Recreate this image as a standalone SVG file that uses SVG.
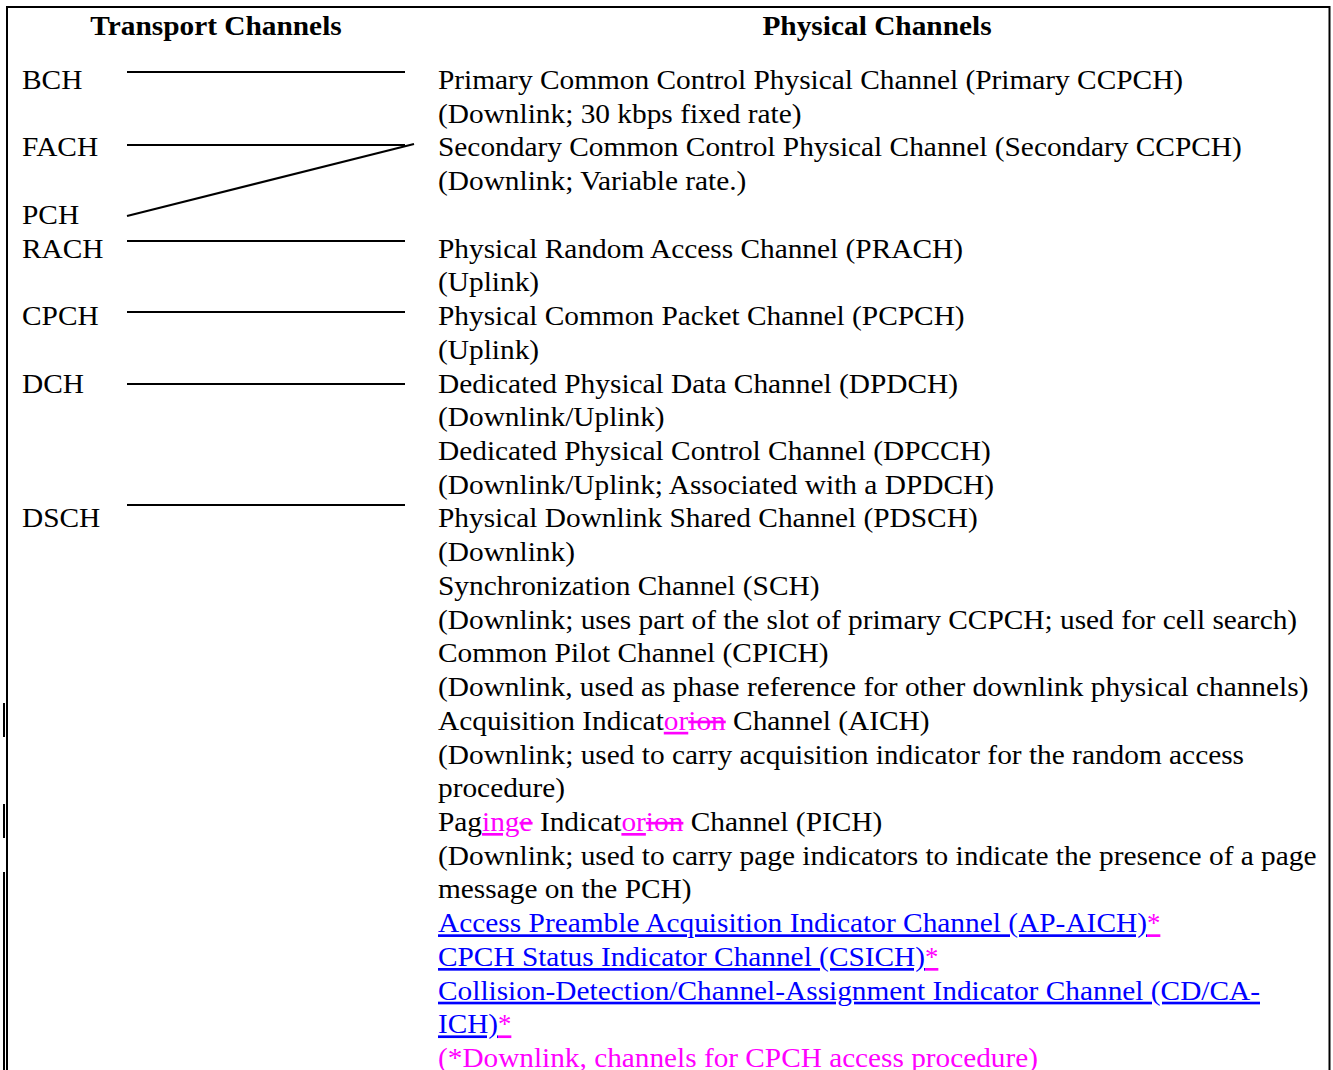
<svg xmlns="http://www.w3.org/2000/svg" width="1333" height="1070" viewBox="0 0 1333 1070">
<style>
  text { font-family: "Liberation Serif", "Times New Roman", serif; font-size: 26.7px; fill: #000; }
  .hdr { font-weight: bold; text-anchor: middle; }
  .ins { fill: #ff00ff; text-decoration: underline; }
  .del { fill: #ff00ff; text-decoration: line-through; }
  .link { fill: #0000ff; text-decoration: underline; }
  .mag { fill: #ff00ff; }
  .magu { fill: #ff00ff; text-decoration: underline; }
  .conn { stroke: #000; stroke-width: 2; fill: none; }
  .frame { stroke: #000; stroke-width: 2; fill: none; }
</style>
<rect x="0" y="0" width="1333" height="1070" fill="#fff"/>
<g id="frame">
  <polyline class="frame" points="7,1070 7,7 1329.5,7 1329.5,1070"/>
  <line class="frame" x1="4" y1="703" x2="4" y2="737"/>
  <line class="frame" x1="4" y1="804" x2="4" y2="838"/>
  <line class="frame" x1="4" y1="872" x2="4" y2="1070"/>
</g>
<g id="headers">
  <g transform="translate(216,0) scale(1.1,1)"><text class="hdr" x="0" y="35">Transport Channels</text></g>
  <g transform="translate(877,0) scale(1.1,1)"><text class="hdr" x="0" y="35">Physical Channels</text></g>
</g>
<g id="transport" transform="translate(22,0) scale(1.1,1)">
  <g id="t-bch"><text x="0" y="89">BCH</text></g>
  <g id="t-fach"><text x="0" y="156.5">FACH</text></g>
  <g id="t-pch"><text x="0" y="223.9">PCH</text></g>
  <g id="t-rach"><text x="0" y="257.7">RACH</text></g>
  <g id="t-cpch"><text x="0" y="325.1">CPCH</text></g>
  <g id="t-dch"><text x="0" y="392.6">DCH</text></g>
  <g id="t-dsch"><text x="0" y="527.5">DSCH</text></g>
</g>
<g id="connectors">
  <line class="conn" x1="127" y1="72" x2="405" y2="72"/>
  <line class="conn" x1="127" y1="145" x2="405" y2="145"/>
  <line class="conn" x1="127" y1="216" x2="414" y2="144"/>
  <line class="conn" x1="127" y1="241" x2="405" y2="241"/>
  <line class="conn" x1="127" y1="312" x2="405" y2="312"/>
  <line class="conn" x1="127" y1="384" x2="405" y2="384"/>
  <line class="conn" x1="127" y1="505" x2="405" y2="505"/>
</g>
<g id="physical">
  <g transform="translate(438,0) scale(1.1,1)">
  <g id="p-pccpch">
    <text x="0" y="89">Primary Common Control Physical Channel (Primary CCPCH)</text>
    <text x="0" y="122.7">(Downlink; 30 kbps fixed rate)</text>
  </g>
  <g id="p-sccpch">
    <text x="0" y="156.5">Secondary Common Control Physical Channel (Secondary CCPCH)</text>
    <text x="0" y="190.2">(Downlink; Variable rate.)</text>
  </g>
  <g id="p-prach">
    <text x="0" y="257.7">Physical Random Access Channel (PRACH)</text>
    <text x="0" y="291.4">(Uplink)</text>
  </g>
  <g id="p-pcpch">
    <text x="0" y="325.1">Physical Common Packet Channel (PCPCH)</text>
    <text x="0" y="358.8">(Uplink)</text>
  </g>
  <g id="p-dpdch">
    <text x="0" y="392.6">Dedicated Physical Data Channel (DPDCH)</text>
    <text x="0" y="426.3">(Downlink/Uplink)</text>
  </g>
  <g id="p-dpcch">
    <text x="0" y="460">Dedicated Physical Control Channel (DPCCH)</text>
    <text x="0" y="493.8">(Downlink/Uplink; Associated with a DPDCH)</text>
  </g>
  <g id="p-pdsch">
    <text x="0" y="527.5">Physical Downlink Shared Channel (PDSCH)</text>
    <text x="0" y="561.2">(Downlink)</text>
  </g>
  <g id="p-sch">
    <text x="0" y="594.9">Synchronization Channel (SCH)</text>
    <text x="0" y="628.7">(Downlink; uses part of the slot of primary CCPCH; used for cell search)</text>
  </g>
  <g id="p-cpich">
    <text x="0" y="662.4">Common Pilot Channel (CPICH)</text>
    <text x="0" y="696.1">(Downlink, used as phase reference for other downlink physical channels)</text>
  </g>
  <g id="p-aich">
    <text x="0" y="729.9">Acquisition Indicat<tspan class="ins">or</tspan><tspan class="del">ion</tspan> Channel (AICH)</text>
    <text x="0" y="763.6">(Downlink; used to carry acquisition indicator for the random access</text>
    <text x="0" y="797.3">procedure)</text>
  </g>
  <g id="p-pich">
    <text x="0" y="831.1">Pag<tspan class="ins">ing</tspan><tspan class="del">e</tspan> Indicat<tspan class="ins">or</tspan><tspan class="del">ion</tspan> Channel (PICH)</text>
    <text x="0" y="864.8">(Downlink; used to carry page indicators to indicate the presence of a page</text>
    <text x="0" y="898.5">message on the PCH)</text>
  </g>
  </g>
  <g id="p-apaich">
    <text x="438" y="932.3"><tspan class="link" textLength="709" lengthAdjust="spacingAndGlyphs">Access Preamble Acquisition Indicator Channel (AP-AICH)</tspan><tspan class="magu">*</tspan></text>
  </g>
  <g id="p-csich">
    <text x="438" y="966"><tspan class="link" textLength="487" lengthAdjust="spacingAndGlyphs">CPCH Status Indicator Channel (CSICH)</tspan><tspan class="magu">*</tspan></text>
  </g>
  <g id="p-cdcaich">
    <text x="438" y="999.7" class="link" textLength="822" lengthAdjust="spacingAndGlyphs">Collision-Detection/Channel-Assignment Indicator Channel (CD/CA-</text>
    <text x="438" y="1033.4"><tspan class="link" textLength="60" lengthAdjust="spacingAndGlyphs">ICH)</tspan><tspan class="magu">*</tspan></text>
  </g>
  <g id="p-note">
    <text x="438" y="1067.2" class="mag" textLength="600" lengthAdjust="spacingAndGlyphs">(*Downlink, channels for CPCH access procedure)</text>
  </g>
</g>
</svg>
